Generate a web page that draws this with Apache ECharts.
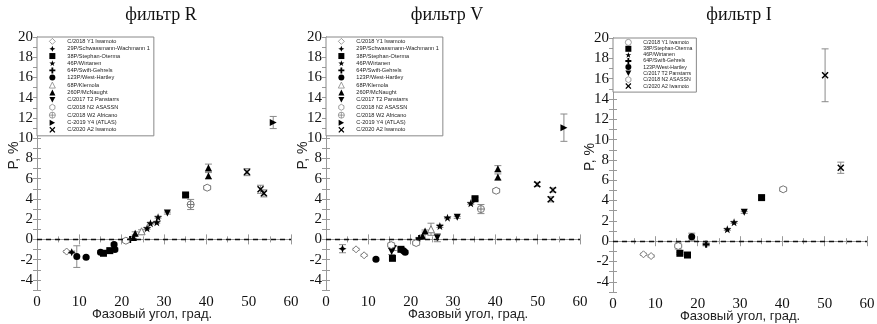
<!DOCTYPE html>
<html><head><meta charset="utf-8">
<script src="https://cdn.jsdelivr.net/npm/echarts@6/dist/echarts.min.js"></script>
<style>html,body{margin:0;padding:0;background:#fff}#c{width:877px;height:324px}</style>
</head><body><div id="c"></div><script>
// ---- axis ranges ----
const xMin = 0, xMax = 60, xStep = 10;
const yMin = -5, yMax = 20, yStep = 1;
const xTitle = 'Фазовый угол, град.';
const yTitle = 'P, %';
const panelTitles = ['фильтр R', 'фильтр V', 'фильтр I'];

// ---- comet names ----
const NAMES = {
  Y1: 'C/2018 Y1 Iwamoto', P29: '29P/Schwassmann-Wachmann 1', P38: '38P/Stephan-Oterma',
  P46: '46P/Wirtanen', P64: '64P/Swift-Gehrels', P123: '123P/West-Hartley', P68: '68P/Klemola',
  P260: '260P/McNaught', T2: 'C/2017 T2 Panstarrs', N2: 'C/2018 N2 ASASSN',
  W2: 'C/2018 W2 Africano', Y4: 'C-2019 Y4 (ATLAS)', A2: 'C/2020 A2 Iwamoto'
};

// ---- data: [phase angle, P %, error] ----
// filter R
const R_Y1   = [[7.0, -1.2, 0.1]];
const R_P29  = [[8.2, -1.27, 0.12]];
const R_P38  = [[15.7, -1.37, 0.15], [17.2, -1.11, 0.15], [35.1, 4.39, 0.15]];
const R_P46  = [[26.0, 1.1, 0.1], [26.8, 1.6, 0.1], [28.3, 1.7, 0.1], [28.6, 2.2, 0.1]];
const R_P64  = [[22.0, 0.0, 0.1]];
const R_P123 = [[9.4, -1.7, 1.07], [11.6, -1.77, 0.1], [15.0, -1.27, 0.15], [18.2, -0.5, 0.15], [18.4, -1.0, 0.15]];
const R_P68  = [[24.7, 0.8, 0.15]];
const R_P260 = [[22.8, 0.2, 0.1], [23.2, 0.6, 0.15], [40.5, 7.09, 0.35], [40.5, 6.3, 0.3]];
const R_T2   = [[30.8, 2.6, 0.1]];
const R_N2   = [[21.0, -0.13, 0.15], [40.2, 5.11, 0.2]];
const R_W2   = [[36.3, 3.45, 0.5]];
const R_Y4   = [[55.8, 11.55, 0.6]];
const R_A2   = [[49.6, 6.65, 0.35], [52.8, 4.95, 0.4], [53.6, 4.55, 0.35]];
// filter V
const V_Y1   = [[7.1, -0.98, 0.1], [9.0, -1.57, 0.1]];
const V_P29  = [[3.9, -0.92, 0.4]];
const V_P38  = [[15.7, -1.87, 0.15], [17.7, -0.98, 0.15], [35.2, 4.02, 0.15]];
const V_P46  = [[26.9, 1.33, 0.15], [28.7, 2.15, 0.1], [34.2, 3.57, 0.1]];
const V_P64  = [[22.0, 0.1, 0.1]];
const V_P123 = [[11.8, -1.97, 0.12], [18.3, -1.12, 0.15], [18.7, -1.27, 0.15]];
const V_P68  = [[24.8, 1.0, 0.6]];
const V_P260 = [[22.8, 0.33, 0.1], [23.4, 0.83, 0.1], [40.6, 6.99, 0.3], [40.6, 6.17, 0.3]];
const V_T2   = [[15.5, -1.2, 0.3], [15.9, -0.9, 0.2], [26.3, 0.17, 0.4], [31.0, 2.18, 0.1]];
const V_N2   = [[15.4, -0.56, 0.2], [21.3, -0.36, 0.2], [40.2, 4.81, 0.2]];
const V_W2   = [[36.6, 3.0, 0.45]];
const V_Y4   = [[56.2, 11.04, 1.35]];
const V_A2   = [[49.9, 5.44, 0.2], [53.1, 3.96, 0.25], [53.6, 4.88, 0.2]];
// filter I
const I_Y1   = [[7.2, -1.29, 0.1], [9.0, -1.46, 0.1]];
const I_P38  = [[15.8, -1.19, 0.1], [17.6, -1.36, 0.1], [35.1, 4.29, 0.15]];
const I_P46  = [[27.0, 1.17, 0.1], [28.6, 1.86, 0.1]];
const I_P64  = [[22.0, -0.31, 0.15]];
const I_P123 = [[18.6, 0.44, 0.35]];
const I_T2   = [[31.0, 2.84, 0.1]];
const I_N2   = [[15.4, -0.47, 0.3], [40.2, 5.11, 0.2]];
const I_A2   = [[50.1, 16.33, 2.6], [53.8, 7.23, 0.55]];

const ORDER_RV = ['Y1','P29','P38','P46','P64','P123','P68','P260','T2','N2','W2','Y4','A2'];
const ORDER_I  = ['Y1','P38','P46','P64','P123','T2','N2','A2'];

// ---- symbols ----
const STAR4 = 'path://M0,-10 L3,-3 L10,0 L3,3 L0,10 L-3,3 L-10,0 L-3,-3 Z';
const STAR5 = 'path://M0,-10 L2.35,-3.24 L9.51,-3.09 L3.8,1.24 L5.88,8.09 L0,4 L-5.88,8.09 L-3.8,1.24 L-9.51,-3.09 L-2.35,-3.24 Z';
const PLUS  = 'path://M-3,-10 L3,-10 L3,-3 L10,-3 L10,3 L3,3 L3,10 L-3,10 L-3,3 L-10,3 L-10,-3 L-3,-3 Z';
const INV   = 'path://M-10,-9 L10,-9 L0,9 Z';
const RTRI  = 'path://M-9,-10 L9,0 L-9,10 Z';
const XS    = 'path://M-10,-7 L-7,-10 L0,-3 L7,-10 L10,-7 L3,0 L10,7 L7,10 L0,3 L-7,10 L-10,7 L-3,0 Z';
const HEX   = 'path://M0,-10 L8.66,-5 L8.66,5 L0,10 L-8.66,5 L-8.66,-5 Z';
const OPLUS = 'path://M-10,0 A10,10 0 1,0 10,0 A10,10 0 1,0 -10,0 Z M-10,0 L10,0 M0,-10 L0,10';
const STY = {
  Y1: {s: 'diamond', z: 7, open: true}, P29: {s: STAR4, z: 8}, P38: {s: 'rect', z: 7},
  P46: {s: STAR5, z: 8}, P64: {s: PLUS, z: 7}, P123: {s: 'circle', z: 7},
  P68: {s: 'triangle', z: 7, open: true}, P260: {s: 'triangle', z: 7}, T2: {s: INV, z: 7},
  N2: {s: HEX, z: 7, open: true}, W2: {s: OPLUS, z: 7, open: true}, Y4: {s: RTRI, z: 7}, A2: {s: XS, z: 7}
};

const panels = [
  {grid: {left: 37, top: 37, width: 254, height: 253}, titleX: 156, xPad: [0, 24, 0, 0],
   order: ORDER_RV, legendH: 7.17,
   data: {Y1: R_Y1, P29: R_P29, P38: R_P38, P46: R_P46, P64: R_P64, P123: R_P123, P68: R_P68, P260: R_P260, T2: R_T2, N2: R_N2, W2: R_W2, Y4: R_Y4, A2: R_A2}},
  {grid: {left: 326, top: 37, width: 254, height: 253}, titleX: 442, xPad: [0, 0, 0, 30],
   order: ORDER_RV, legendH: 7.17,
   data: {Y1: V_Y1, P29: V_P29, P38: V_P38, P46: V_P46, P64: V_P64, P123: V_P123, P68: V_P68, P260: V_P260, T2: V_T2, N2: V_N2, W2: V_W2, Y4: V_Y4, A2: V_A2}},
  {grid: {left: 613, top: 38, width: 254, height: 254}, titleX: 734, xPad: [0, 0, 0, 0],
   order: ORDER_I, legendH: 6.1,
   data: {Y1: I_Y1, P38: I_P38, P46: I_P46, P64: I_P64, P123: I_P123, T2: I_T2, N2: I_N2, A2: I_A2}}
];

const AX = '#999';
const grids = [], xAxes = [], yAxes = [], series = [], legends = [], titles = [];
function errItem(params, api) {
  const x = api.value(0), y = api.value(1), e = api.value(2);
  const hi = api.coord([x, y + e]), lo = api.coord([x, y - e]);
  const w = 3.5, st = {stroke: '#8a8a8a', lineWidth: 1};
  return {type: 'group', children: [
    {type: 'line', shape: {x1: hi[0], y1: hi[1], x2: lo[0], y2: lo[1]}, style: st},
    {type: 'line', shape: {x1: hi[0] - w, y1: hi[1], x2: hi[0] + w, y2: hi[1]}, style: st},
    {type: 'line', shape: {x1: lo[0] - w, y1: lo[1], x2: lo[0] + w, y2: lo[1]}, style: st}
  ]};
}
panels.forEach((p, i) => {
  grids.push(Object.assign({containLabel: false, outerBoundsMode: 'none'}, p.grid));
  const tick = {show: true, inside: true, length: 5, lineStyle: {color: AX}};
  const minor = {show: true, splitNumber: 2, length: 3, lineStyle: {color: AX}};
  const line = {show: true, lineStyle: {color: AX, width: 1}};
  xAxes.push({type: 'value', gridIndex: i, min: xMin, max: xMax, interval: xStep, position: 'bottom',
    axisLine: line, axisTick: tick, minorTick: minor, splitLine: {show: false},
    axisLabel: {margin: 5, fontFamily: 'Liberation Serif', fontSize: 15, color: '#111'},
    name: xTitle, nameLocation: 'middle', nameGap: 18, nameMoveOverlap: false,
    nameTextStyle: {fontFamily: 'Liberation Sans', fontSize: 13, color: '#222', padding: p.xPad}});
  xAxes.push({type: 'value', gridIndex: i, min: xMin, max: xMax, interval: xStep, position: 'top',
    axisLine: line, axisTick: tick, minorTick: minor, splitLine: {show: false}, axisLabel: {show: false}});
  yAxes.push({type: 'value', gridIndex: i, min: yMin, max: yMax, interval: yStep, position: 'left',
    axisLine: line, axisTick: {show: true, inside: true, length: 4, lineStyle: {color: AX}}, splitLine: {show: false},
    axisLabel: {margin: 4, fontFamily: 'Liberation Serif', fontSize: 15, color: '#111',
      formatter: v => (v % 2 === 0 ? String(v) : '')},
    name: yTitle, nameLocation: 'middle', nameGap: 16, nameRotate: 90, nameMoveOverlap: false,
    nameTextStyle: {fontFamily: 'Liberation Sans', fontSize: 14, color: '#222', padding: [0, 0, 0, 16]}});
  yAxes.push({type: 'value', gridIndex: i, min: yMin, max: yMax, interval: yStep, position: 'right',
    axisLine: line, axisTick: {show: true, inside: true, length: 4, lineStyle: {color: AX}},
    splitLine: {show: false}, axisLabel: {show: false}});

  titles.push({text: panelTitles[i], left: p.titleX, top: 1, textAlign: 'center',
    textStyle: {fontFamily: 'Liberation Serif', fontSize: 18, fontWeight: 'normal', color: '#111'}});

  // error bars
  const errData = [];
  p.order.forEach(k => (p.data[k] || []).forEach(d => errData.push(d)));
  series.push({type: 'custom', name: 'err' + i, xAxisIndex: 2 * i, yAxisIndex: 2 * i, z: 1,
    renderItem: errItem, data: errData, silent: true,
    markLine: {silent: true, symbol: 'none', label: {show: false},
      lineStyle: {type: [5, 4], color: '#111', width: 1.4}, data: [{yAxis: 0}]}});

  p.order.forEach(k => {
    const st = STY[k];
    series.push({type: 'scatter', name: NAMES[k], xAxisIndex: 2 * i, yAxisIndex: 2 * i, z: 3,
      symbol: st.s, symbolSize: st.z,
      itemStyle: st.open ? {color: '#fff', borderColor: '#777', borderWidth: 1, opacity: 1}
                         : {color: '#000', borderWidth: 0, opacity: 1},
      data: p.data[k].map(d => [d[0], d[1]])});
  });

  legends.push({orient: 'vertical', left: p.grid.left, top: p.grid.top,
    padding: [1, 4, 3, 12], itemWidth: 6, itemHeight: 6, itemGap: p.legendH - 6,
    borderColor: '#888', borderWidth: 1, selectedMode: false, backgroundColor: '#fff',
    itemStyle: {borderWidth: 0.7},
    textStyle: {fontFamily: 'Liberation Sans', fontSize: i === 2 ? 5.2 : 5.6, color: '#222',
      lineHeight: 6, padding: [0, 0, 0, 7]},
    data: p.order.map(k => (i === 2 && k === 'Y1') ? {name: NAMES[k], icon: 'circle'} : {name: NAMES[k]})});
});

const chart = echarts.init(document.getElementById('c'), null, {renderer: 'canvas'});
chart.setOption({animation: false, backgroundColor: '#fff', title: titles, grid: grids,
  xAxis: xAxes, yAxis: yAxes, legend: legends, series: series});
</script></body></html>
